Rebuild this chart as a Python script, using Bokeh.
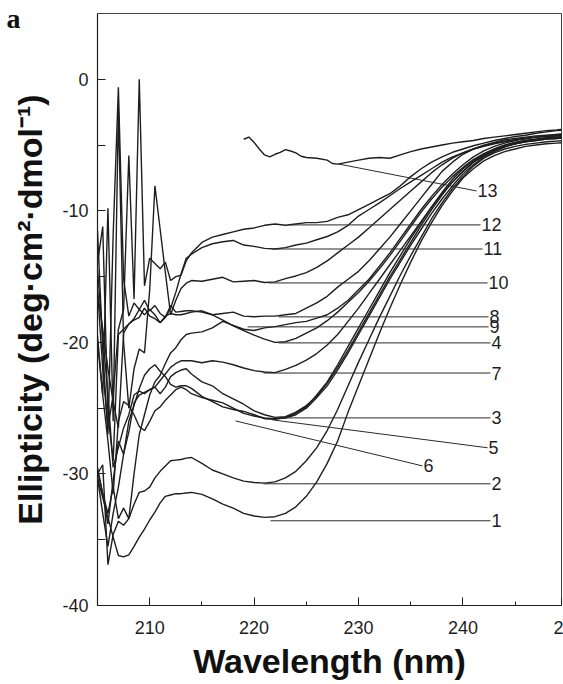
import math
from bokeh.plotting import figure
from bokeh.models import Range1d, FixedTicker, CustomJSTickFormatter, LinearAxis
from bokeh.core.properties import value
from bokeh.embed import file_html
from bokeh.resources import INLINE

# Wavelength grid (nm): 0.5 nm steps in the noisy far-UV part, 1 nm afterwards
wavelength = [205.0, 205.5, 206.0, 206.5, 207.0, 207.5, 208.0, 208.5, 209.0, 209.5,
              210.0, 210.5, 211.0, 211.5, 212.0, 212.5, 213.0, 213.5,
              214, 215, 216, 217, 218, 219, 220, 221, 222, 223,
              224, 225, 226, 227, 228, 229, 230, 231, 232, 233,
              234, 235, 236, 237, 238, 239, 240, 241, 242, 243,
              244, 245, 246, 247, 248, 249, 250]

# Mean residue ellipticity of spectra 1-12
ell_1 = [-30.3, -31.8, -33.3, -34.8, -36.2, -36.3, -36.15, -35.5, -34.8, -34.2, -33.5, -32.9, -32.2, -31.7, -31.6, -31.5, -31.5, -31.45,
         -31.4, -31.55, -31.9, -32.3, -32.6, -33.0, -33.2, -33.3, -33.25, -33.0,
         -32.5, -31.7, -30.6, -29.2, -27.5, -25.3, -23.3, -21.3, -19.3, -17.4,
         -15.6, -13.9, -12.3, -10.9, -9.6, -8.5, -7.5, -6.8, -6.2, -5.8,
         -5.5, -5.3, -5.1, -5.0, -4.9, -4.85, -4.8]
ell_2 = [-30.0, -29.3, -36.9, -34.6, -33.6, -33.9, -33.4, -32.3, -31.4, -31.3, -31.0, -30.3, -29.8, -29.4, -29.0, -28.95, -28.9, -28.8,
         -28.75, -29.2, -29.7, -30.0, -30.3, -30.55, -30.65, -30.7, -30.6, -30.3,
         -29.8, -29.0, -28.0, -26.7, -25.1, -23.3, -21.5, -19.8, -18.1, -16.5,
         -14.9, -13.4, -12.0, -10.6, -9.4, -8.3, -7.4, -6.6, -6.0, -5.6,
         -5.3, -5.1, -4.95, -4.85, -4.75, -4.7, -4.65]
ell_3 = [-14.5, -19.5, -24.0, -29.5, -28.0, -26.5, -25.5, -24.0, -23.7, -23.9, -23.6, -23.4, -23.9, -23.4, -22.6, -22.3, -22.1, -22.0,
         -22.4, -23.0, -23.3, -23.9, -24.3, -24.7, -25.2, -25.5, -25.7, -25.65,
         -25.3, -24.8, -24.1, -23.1, -21.9, -20.6, -19.2, -17.8, -16.4, -15.0,
         -13.7, -12.4, -11.1, -9.9, -8.8, -7.8, -7.0, -6.3, -5.8, -5.4,
         -5.1, -4.9, -4.75, -4.65, -4.55, -4.5, -4.45]
ell_4 = [-16.2, -19.0, -22.0, -24.5, -26.5, -19.3, -18.6, -18.2, -17.5, -17.9, -17.5, -17.9, -18.5, -18.1, -17.2, -17.7, -17.65, -17.6,
         -17.6, -17.7, -17.9, -18.3, -18.75, -19.1, -19.45, -19.75, -20.0, -19.95,
         -19.7, -19.3, -18.9, -18.35, -17.7, -16.95, -16.2, -15.35, -14.4, -13.4,
         -12.3, -11.2, -10.1, -9.1, -8.2, -7.4, -6.7, -6.1, -5.65, -5.3,
         -5.0, -4.8, -4.65, -4.55, -4.45, -4.4, -4.35]
ell_5 = [-30.3, -33.0, -35.5, -33.0, -31.0, -28.5, -26.0, -24.8, -23.5, -22.5, -22.0, -21.7, -22.2, -22.6, -23.2, -23.4, -23.3, -23.3,
         -23.5, -24.1, -24.5, -24.9, -25.1, -25.25, -25.5, -25.8, -25.85, -25.7,
         -25.4, -24.9, -24.0, -23.0, -21.7, -20.3, -18.9, -17.5, -16.1, -14.7,
         -13.4, -12.1, -10.9, -9.7, -8.6, -7.6, -6.8, -6.2, -5.7, -5.3,
         -5.0, -4.8, -4.65, -4.55, -4.45, -4.4, -4.35]
ell_6 = [-19.5, -24.0, -27.5, -31.5, -26.0, -24.5, -24.8, -25.5, -26.4, -26.7, -26.0, -25.2, -24.9, -24.4, -24.0, -23.6, -23.4, -23.6,
         -23.9, -24.2, -24.4, -24.6, -25.0, -25.4, -25.6, -25.75, -25.8, -25.75,
         -25.5, -25.0, -24.2, -23.3, -22.1, -20.8, -19.4, -18.0, -16.6, -15.2,
         -13.9, -12.6, -11.4, -10.2, -9.1, -8.1, -7.2, -6.5, -5.9, -5.5,
         -5.15, -4.9, -4.75, -4.65, -4.55, -4.5, -4.45]
ell_7 = [-29.8, -31.5, -33.8, -30.5, -27.5, -28.5, -26.8, -24.6, -24.0, -23.8, -23.6, -23.4, -22.9, -22.4, -21.9, -21.6, -21.4, -21.4,
         -21.4, -21.55, -21.4, -21.5, -21.7, -21.95, -22.15, -22.25, -22.3, -22.05,
         -21.75, -21.35, -20.85, -20.2, -19.4, -18.4, -17.4, -16.3, -15.2, -14.1,
         -13.0, -11.9, -10.8, -9.7, -8.7, -7.8, -7.0, -6.3, -5.8, -5.4,
         -5.1, -4.9, -4.7, -4.6, -4.5, -4.45, -4.4]
ell_8 = [-14.0, -11.2, -25.5, -29.0, -19.4, -19.0, -18.6, -18.3, -18.1, -17.4, -18.0, -18.2, -18.5, -18.0, -17.8, -17.9, -17.9, -17.8,
         -17.7, -17.6, -17.9, -17.8, -17.7, -18.0, -18.05, -18.0, -18.0, -17.9,
         -17.8, -17.4, -17.0, -16.5, -15.8, -15.2, -14.6, -13.8, -12.9, -12.0,
         -11.0, -10.0, -9.0, -8.0, -7.0, -6.3, -5.7, -5.3, -5.0, -4.8,
         -4.6, -4.5, -4.4, -4.3, -4.25, -4.2, -4.15]
ell_9 = [-29.5, -31.5, -33.0, -31.0, -33.4, -32.6, -33.4, -30.0, -27.0, -25.5, -24.0, -23.0, -22.5, -21.6, -20.8, -20.4, -19.8, -19.4,
         -19.3, -19.2, -18.9, -18.4, -18.7, -19.0, -19.1, -18.9, -18.8, -18.65,
         -18.5, -18.4, -18.15, -17.9, -17.4, -16.8, -16.0, -15.2, -14.2, -13.2,
         -12.1, -11.0, -9.9, -8.9, -8.0, -7.2, -6.5, -5.9, -5.45, -5.1,
         -4.85, -4.65, -4.5, -4.4, -4.35, -4.3, -4.25]
ell_10 = [-20.0, -24.0, -9.8, -26.0, -2.3, -20.0, -25.0, -22.0, -20.5, -20.8, -16.0, -8.1, -11.4, -14.7, -17.9, -16.8, -15.9, -15.5,
          -15.3, -15.35, -15.2, -15.05, -15.4, -15.35, -15.3, -15.45, -15.4, -15.15,
          -14.95, -14.7, -14.3, -13.8, -13.2, -12.6, -12.0, -11.3, -10.6, -9.9,
          -9.2, -8.5, -7.8, -7.1, -6.5, -6.0, -5.6, -5.3, -5.05, -4.85,
          -4.7, -4.6, -4.5, -4.4, -4.35, -4.3, -4.25]
ell_11 = [-11.5, -20.5, -27.0, -11.8, -0.6, -15.2, -18.0, -17.0, -17.5, -16.8, -17.6, -17.2, -17.8, -18.1, -17.4, -16.2, -14.8, -13.6,
          -13.3, -12.8, -12.5, -12.35, -12.25, -12.6, -12.7, -12.85, -12.9, -12.8,
          -12.6, -12.45, -12.2, -11.95, -11.6, -11.1, -10.4, -9.9, -9.4, -8.85,
          -8.3, -7.8, -7.3, -6.8, -6.3, -5.9, -5.6, -5.3, -5.1, -4.9,
          -4.75, -4.6, -4.5, -4.4, -4.3, -4.2, -4.15]
ell_12 = [-16.0, -22.0, -26.5, -24.0, -19.0, -17.5, -5.8, -16.7, 0.0, -15.7, -13.6, -14.0, -14.4, -13.9, -15.3, -15.0, -14.9, -13.8,
          -13.2, -12.4, -12.0, -11.8, -11.6, -11.4, -11.3, -11.1, -11.0, -11.1,
          -11.0, -10.9, -10.9, -10.8, -10.5, -10.3, -9.9, -9.5, -9.1, -8.7,
          -8.1, -7.4, -6.8, -6.3, -5.9, -5.55, -5.3, -5.05, -4.85, -4.65,
          -4.5, -4.35, -4.25, -4.1, -4.0, -3.9, -3.85]

# Spectrum 13 was only recorded from 219 nm
wavelength_13 = [219.0, 219.5, 220.0, 220.5, 221.0, 221.5, 222.0, 222.5, 223.0, 223.5, 224.0, 224.5, 225.0,
                 226.0, 227.0, 227.5, 228.0, 229.0, 230.0, 231.0, 232.0, 233.0, 234.0, 235.0, 236.0,
                 237.0, 238.0, 239.0, 240.0, 241.0, 242.0, 243.0, 244.0, 245.0, 246.0, 247.0, 248.0,
                 249.0, 250.0]
ell_13 = [-4.56, -4.39, -4.8, -5.3, -5.75, -5.9, -5.7, -5.55, -5.35, -5.45, -5.6, -5.85, -5.95,
          -6.0, -6.15, -6.4, -6.45, -6.3, -6.15, -6.0, -5.95, -6.0, -5.75, -5.5, -5.3,
          -5.15, -5.0, -4.85, -4.75, -4.65, -4.5, -4.4, -4.3, -4.2, -4.1, -4.0, -3.9,
          -3.85, -3.75]

# Curve labels: leader line from the curve (x0, y0) out to the number (x1, y1)
label_text = ["13", "12", "11", "10", "8", "9", "4", "7", "3", "5", "6", "2", "1"]
label_x0 = [228.08, 223.3, 221.76, 221.38, 222.34, 219.37, 222.34, 220.9, 222.34, 221.76, 218.22, 220.9, 221.57]
label_y0 = [-6.44, -11.07, -12.9, -15.48, -18.06, -18.82, -20.04, -22.33, -25.74, -25.89, -25.97, -30.75, -33.56]
label_x1 = [241.3, 241.69, 241.88, 242.36, 242.45, 242.45, 242.64, 242.64, 242.64, 242.36, 236.13, 242.64, 242.64]
label_y1 = [-8.49, -11.07, -12.9, -15.48, -18.06, -18.82, -20.04, -22.33, -25.74, -28.01, -29.39, -30.75, -33.56]

X_START, X_END = 205, 249.44
x_ticks = [210, 220, 230, 240, X_END]   # the last one carries the cut-off "2" of 250 at the right edge
x_minor_ticks = [215, 225, 235, 245]
y_ticks = [-40, -35, -30, -25, -20, -15, -10, -5, 0]
panel_tag_y = [4.6]

INK = "#1e1e1e"
FONT = "Liberation Sans"

p = figure(width=563, height=684, x_range=Range1d(X_START, X_END), y_range=Range1d(-40, 5),
           output_backend="svg", toolbar_location=None,
           min_border_left=97, min_border_right=2, min_border_top=13, min_border_bottom=79)
p.xgrid.visible = False
p.ygrid.visible = False
p.background_fill_color = "white"
p.border_fill_color = "white"
p.outline_line_color = "#444444"
p.outline_line_width = 1

for ax in (p.xaxis[0], p.yaxis[0]):
    ax.axis_line_color = INK
    ax.axis_line_width = 1.2
    ax.major_tick_line_color = INK
    ax.minor_tick_line_color = INK
    ax.major_tick_in = 8
    ax.major_tick_out = 0
    ax.minor_tick_in = 4
    ax.minor_tick_out = 0
    ax.major_label_text_font = FONT
    ax.major_label_text_font_size = "18px"
    ax.major_label_text_color = INK
    ax.axis_label_text_font = FONT
    ax.axis_label_text_font_style = "bold"
    ax.axis_label_text_font_size = "34px"
    ax.axis_label_text_color = "#111111"

p.xaxis.ticker = FixedTicker(ticks=x_ticks, minor_ticks=x_minor_ticks)
p.xaxis.formatter = CustomJSTickFormatter(code="return tick > 249 ? '2' : tick.toFixed(0);")
p.xaxis.major_label_standoff = 15
p.xaxis.axis_label = "Wavelength (nm)"
p.xaxis.axis_label_standoff = 5

p.yaxis.ticker = FixedTicker(ticks=y_ticks, minor_ticks=[])
p.yaxis.formatter = CustomJSTickFormatter(code="return (tick % 10 == 0) ? tick.toFixed(0) : '';")
p.yaxis.major_label_standoff = 9
p.yaxis.axis_label = "Ellipticity (deg\u00b7cm\u00b2\u00b7dmol\u207b\u00b9)"
p.yaxis.axis_label_standoff = 10

# panel letter, carried by an outer left axis without line or ticks
tag_axis = LinearAxis(ticker=FixedTicker(ticks=panel_tag_y, minor_ticks=[]),
                      formatter=CustomJSTickFormatter(code="return 'a';"),
                      axis_line_color=None, major_tick_line_color=None, minor_tick_line_color=None,
                      major_tick_in=0, major_tick_out=0, minor_tick_in=0, minor_tick_out=0,
                      major_label_standoff=-12, major_label_text_font="Liberation Serif",
                      major_label_text_font_style="bold", major_label_text_font_size="28px",
                      major_label_text_color="#111111")
p.add_layout(tag_axis, "left")

series = [ell_1, ell_2, ell_3, ell_4, ell_5, ell_6, ell_7, ell_8, ell_9, ell_10, ell_11, ell_12]
for ys in series:
    p.line(wavelength, ys, line_color=INK, line_width=1.4)
p.line(wavelength_13, ell_13, line_color=INK, line_width=1.4)

# leader lines and spectrum numbers
p.segment(x0=label_x0, y0=label_y0, x1=label_x1, y1=label_y1, line_color="#2a2a2a", line_width=1)
p.text(x=label_x1, y=label_y1, text=label_text, text_font=value(FONT), text_font_size="18px",
       text_color=INK, text_align="left", text_baseline="middle", x_offset=1)

open("out.html", "w").write(file_html(p, INLINE))
